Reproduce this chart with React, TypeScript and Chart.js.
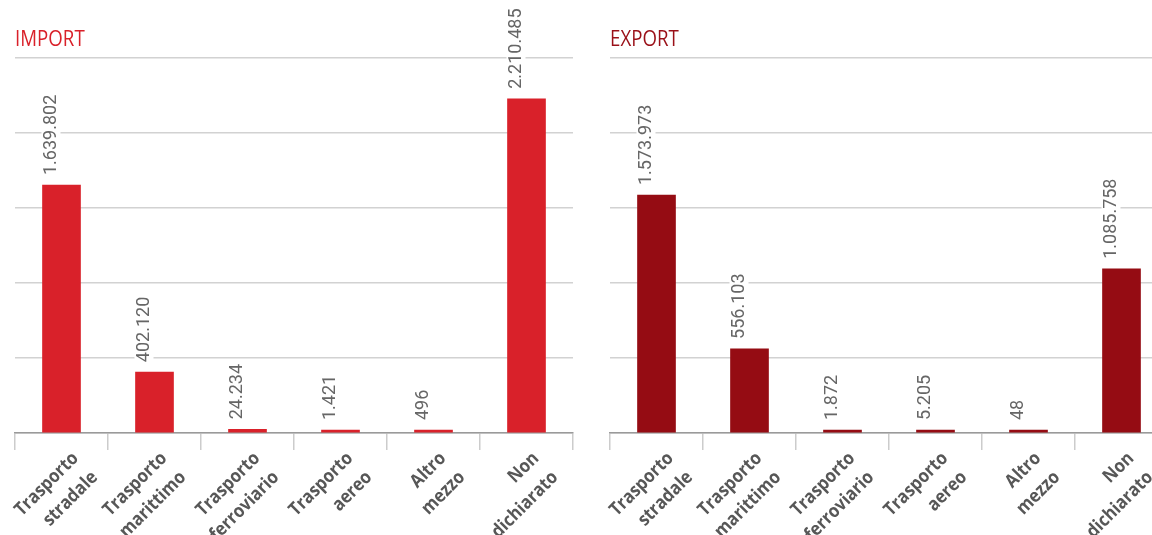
import React, { useEffect, useRef } from "react";
import { Chart, registerables } from "chart.js";

Chart.register(...registerables);

const categories: string[][] = [
  ["Trasporto", "stradale"],
  ["Trasporto", "marittimo"],
  ["Trasporto", "ferroviario"],
  ["Trasporto", "aereo"],
  ["Altro", "mezzo"],
  ["Non", "dichiarato"],
];
const importValues = [1639802, 402120, 24234, 1421, 496, 2210485];
const exportValues = [1573973, 556103, 1872, 5205, 48, 1085758];
const axisMax = 2480000;
const axisStep = 496000;

const importTitle = "IMPORT";
const exportTitle = "EXPORT";
const importColor = "#d9212a";
const exportColor = "#950c13";
const importTitleColor = "#d9212a";
const exportTitleColor = "#9a1018";

const fmt = (v: number) => String(v).replace(/\B(?=(\d{3})+(?!\d))/g, ".");

function makePlugin(title: string, titleColor: string) {
  return {
    id: "customText",
    afterDatasetsDraw(chart: any) {
      const ctx = chart.ctx as CanvasRenderingContext2D;
      const meta = chart.getDatasetMeta(0);
      const data = chart.data.datasets[0].data as number[];
      ctx.save();
      ctx.font = "18px Roboto";
      meta.data.forEach((bar: any, i: number) => {
        const text = fmt(data[i]);
        const w = ctx.measureText(text).width;
        ctx.save();
        ctx.translate(bar.x - 10.5, bar.y - 10);
        ctx.rotate(-Math.PI / 2);
        ctx.fillStyle = "#ffffff";
        ctx.fillRect(-2, -9.5, w + 4, 19);
        ctx.fillStyle = "#666666";
        ctx.textAlign = "left";
        ctx.textBaseline = "middle";
        ctx.fillText(text, 0, 0);
        ctx.restore();
      });
      ctx.restore();
    },
    afterDraw(chart: any) {
      const ctx = chart.ctx as CanvasRenderingContext2D;
      const area = chart.chartArea;
      const xs = chart.scales.x;
      ctx.save();
      // title (slightly condensed)
      ctx.save();
      ctx.font = '500 22px "Open Sans", sans-serif';
      ctx.fillStyle = titleColor;
      ctx.textAlign = "left";
      ctx.textBaseline = "alphabetic";
      ctx.translate(area.left, 46);
      ctx.scale(0.85, 1);
      ctx.fillText(title, 0, 0);
      ctx.restore();
      // category labels (bold, slightly condensed, rotated -45°)
      ctx.font = 'bold 18.5px "Open Sans", sans-serif';
      ctx.fillStyle = "#575757";
      const sx = 0.9;
      const c = Math.SQRT1_2;
      const LH = 27;
      categories.forEach((lines, i) => {
        const cx = xs.getPixelForValue(i);
        let ax = cx + 9.5;
        const ay = 455.5;
        let minLeft = Infinity;
        lines.forEach((ln, j) => {
          const w = ctx.measureText(ln).width * sx;
          minLeft = Math.min(minLeft, ax + j * LH * c - w * c - 6);
        });
        const limit = area.left - 3;
        if (minLeft < limit) ax += limit - minLeft;
        ctx.save();
        ctx.translate(ax, ay);
        ctx.rotate(-Math.PI / 4);
        ctx.scale(sx, 1);
        ctx.textAlign = "right";
        ctx.textBaseline = "middle";
        lines.forEach((ln, j) => ctx.fillText(ln, 0, j * LH));
        ctx.restore();
      });
      ctx.restore();
    },
  };
}

function BarPanel({ values, color, title, titleColor, left }: { values: number[]; color: string; title: string; titleColor: string; left: number }) {
  const ref = useRef<HTMLCanvasElement>(null);
  useEffect(() => {
    if (!ref.current) return;
    const chart = new Chart(ref.current, {
      type: "bar",
      data: {
        labels: categories.map((c) => c.join(" ")),
        datasets: [
          {
            data: values,
            backgroundColor: color,
            barThickness: 38,
            minBarLength: 3,
          },
        ],
      },
      options: {
        responsive: false,
        animation: false,
        layout: { padding: { left: 15, right: 17, top: 58, bottom: 85 } },
        plugins: {
          legend: { display: false },
          tooltip: { enabled: false },
          title: { display: false },
        },
        scales: {
          x: {
            grid: { offset: true, drawOnChartArea: false, tickLength: 17, color: "#cccccc", lineWidth: 1.5 },
            border: { color: "#9a9a9a", width: 1.5 },
            ticks: { display: false },
          },
          y: {
            min: 0,
            max: axisMax,
            ticks: { display: false, stepSize: axisStep },
            grid: { color: "#d2d2d2", drawTicks: false, lineWidth: 1.5 },
            border: { display: false },
          },
        },
      },
      plugins: [makePlugin(title, titleColor)],
    } as any);
    return () => chart.destroy();
  }, []);
  return (
    <canvas
      ref={ref}
      width={590}
      height={535}
      style={{ position: "absolute", left, top: 0, width: 590, height: 535 }}
    />
  );
}

export default function App() {
  return (
    <div
      style={{
        position: "fixed",
        left: 0,
        top: 0,
        width: 1152,
        height: 535,
        overflow: "hidden",
        background: "#ffffff",
      }}
    >
      <BarPanel values={importValues} color={importColor} title={importTitle} titleColor={importTitleColor} left={0} />
      <BarPanel values={exportValues} color={exportColor} title={exportTitle} titleColor={exportTitleColor} left={595} />
    </div>
  );
}
